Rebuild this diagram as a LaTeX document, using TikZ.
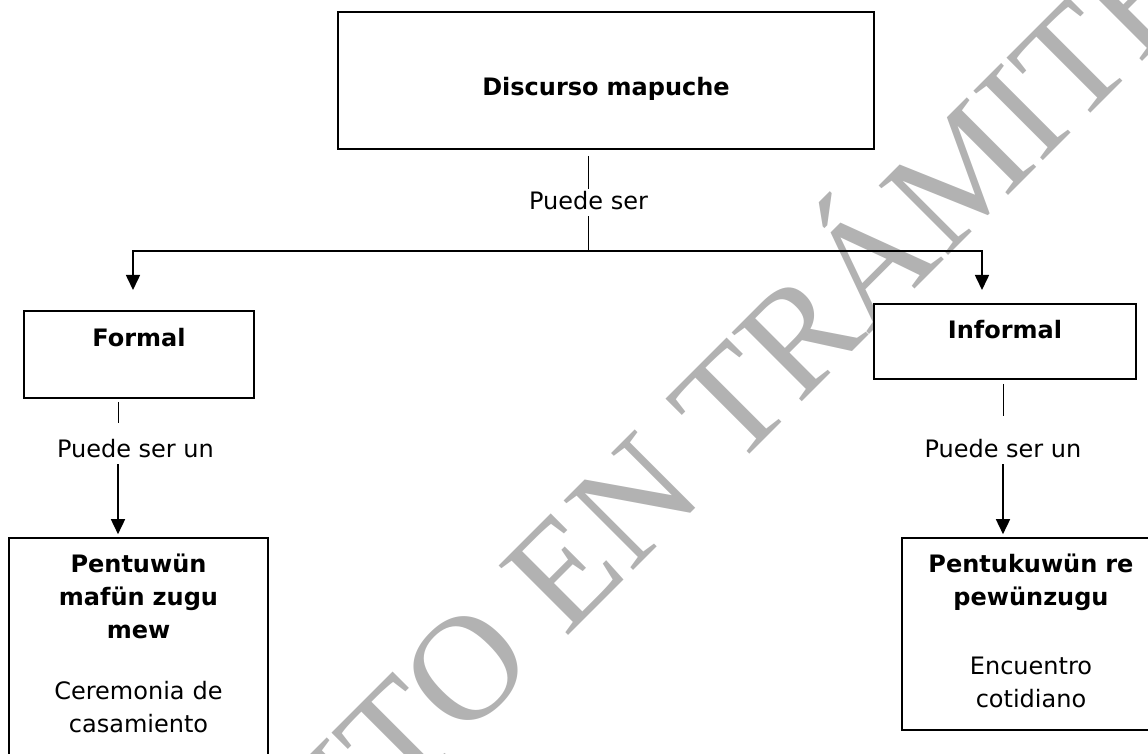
\documentclass[tikz,border=0pt]{standalone}
\usepackage{fontspec}
\setmainfont{DejaVu Sans}
\newfontfamily\wmfont{Liberation Serif}
\usepackage{tikz}
\usetikzlibrary{arrows.meta}

\newcommand{\txt}{\fontsize{12pt}{16.5pt}\selectfont}
\tikzset{
  box/.style={draw, line width=0.8pt, fill=white, inner sep=0pt, anchor=base, align=center, font=\txt},
  lbl/.style={inner sep=0pt, anchor=base, text depth=3pt, font=\txt},
  thinline/.style={line width=0.5pt},
  arr/.style={line width=0.8pt, -{Triangle[length=7.5pt,width=7pt]}},
  arrs/.style={line width=0.8pt, {Triangle[length=7.5pt,width=7pt]}-{Triangle[length=7.5pt,width=7pt]}},
  watermark/.style={anchor=base, rotate=45, text=black!30, inner sep=0pt, font=\wmfont\fontsize{75pt}{75pt}\selectfont}
}

\begin{document}
\begin{tikzpicture}[x=0.5pt, y=-0.5pt]
  \useasboundingbox (0,0) rectangle (1148,754);
  \clip (0,0) rectangle (1148,754);
  \node[watermark] (wm) at (534,670) {DOCUMENTO EN TRÁMITE};

  \node[box, text width=268pt, text height=42pt, text depth=26.5pt] (top) at (606,96) {\textbf{Discurso mapuche}};
  \node[lbl, text height=10.5pt] (pA) at (588.5,210) {Puede ser};
  \coordinate (forkL) at (133,251);
  \coordinate (forkR) at (982,251);
  \coordinate (tipL) at (133,290);
  \coordinate (tipR) at (982,290);

  \node[box, text width=115pt, text height=18pt, text depth=25.5pt] (formal) at (139,347) {\textbf{Formal}};
  \node[box, text width=131pt, text height=17.5pt, text depth=20pt] (informal) at (1005,339) {\textbf{Informal}};

  \node[lbl, text height=17.5pt] (pL) at (135.5,458) {Puede ser un};
  \node[lbl, text height=21pt] (pR) at (1003,458) {Puede ser un};
  \coordinate (colL) at (118,0);

  \node[box, text width=129.5pt, text height=17.5pt, text depth=113.5pt] (pentu) at (138.5,573)
    {\textbf{Pentuwün}\\\textbf{mafün zugu}\\\textbf{mew}\\[14pt]Ceremonia de\\casamiento};
  \node[box, text width=129pt, text height=17.5pt, text depth=78.5pt] (pentuk) at (1031,573)
    {\textbf{Pentukuwün re}\\\textbf{pewünzugu}\\[18pt]Encuentro\\cotidiano};

  \draw[thinline, shorten <=3pt] (top.south -| pA) -- (pA.north);
  \draw[thinline] (pA.south) -- (pA.south |- forkL);
  \draw[arrs] (tipL) |- (forkR) -- (tipR);

  \draw[thinline, shorten <=1.5pt] (formal.south -| colL) -- (pL.north -| colL);
  \draw[arr, shorten >=1.5pt] (pL.south -| colL) -- (pentu.north -| colL);
  \draw[thinline, shorten <=2pt] (informal.south -| pR) -- (pR.north);
  \draw[arr, shorten >=1.5pt] (pR.south) -- (pR.south |- pentuk.north);
\end{tikzpicture}
\end{document}
